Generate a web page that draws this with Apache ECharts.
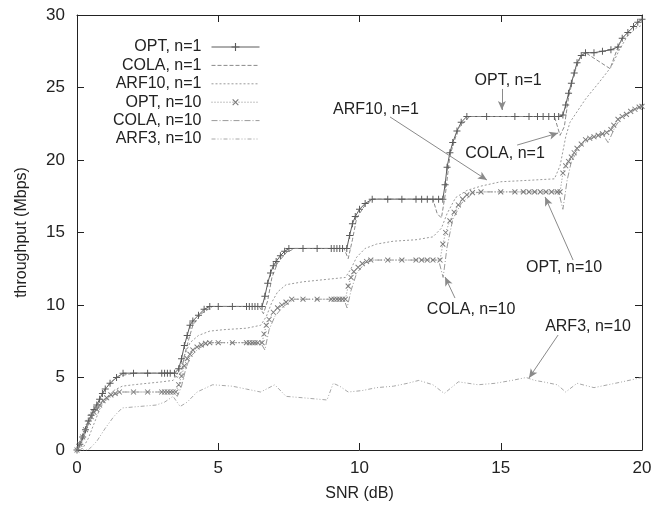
<!DOCTYPE html>
<html>
<head>
<meta charset="utf-8">
<script src="https://cdn.jsdelivr.net/npm/echarts@6/dist/echarts.min.js"></script>
<style>
html,body{margin:0;padding:0;background:#fff;}
#chart{width:668px;height:508px;}
</style>
</head>
<body>
<div id="chart"></div>
<script>
// ---- data (SNR dB, throughput Mbps) ----
const seriesNames = ['OPT, n=1', 'COLA, n=1', 'ARF10, n=1', 'OPT, n=10', 'COLA, n=10', 'ARF3, n=10'];

const optN1 = [[0,0],[0.1,0.4],[0.2,0.9],[0.3,1.4],[0.4,2.0],[0.5,2.4],[0.6,2.8],[0.7,3.1],[0.8,3.5],[0.9,3.9],[1.0,4.2],[1.17,4.6],[1.4,5.0],[1.63,5.3],[2.0,5.3],[2.5,5.3],[3.0,5.3],[3.1,5.3],[3.2,5.3],[3.3,5.3],[3.45,5.3],[3.6,5.6],[3.7,6.3],[3.8,7.2],[3.9,7.9],[4.0,8.6],[4.1,8.9],[4.3,9.3],[4.5,9.7],[4.7,9.9],[5.0,9.9],[5.5,9.9],[6.0,9.9],[6.1,9.9],[6.2,9.9],[6.3,9.9],[6.4,9.9],[6.55,9.9],[6.65,10.6],[6.75,11.5],[6.85,12.2],[6.95,12.7],[7.05,13.0],[7.2,13.4],[7.35,13.7],[7.5,13.9],[8.0,13.9],[8.5,13.9],[9.0,13.9],[9.1,13.9],[9.2,13.9],[9.3,13.9],[9.4,13.9],[9.55,13.9],[9.65,14.8],[9.75,15.6],[9.85,16.1],[10.0,16.6],[10.2,17.0],[10.45,17.3],[11.0,17.3],[11.5,17.3],[12.0,17.3],[12.2,17.3],[12.4,17.3],[12.6,17.3],[12.8,17.3],[12.95,17.3],[13.03,18.3],[13.1,19.5],[13.2,20.5],[13.3,21.2],[13.45,22.0],[13.6,22.6],[13.8,23.0],[14.5,23.0],[15.5,23.0],[16.0,23.0],[16.3,23.0],[16.5,23.0],[16.7,23.0],[16.9,23.0],[17.05,23.0],[17.2,23.1],[17.3,23.8],[17.4,24.6],[17.5,25.3],[17.6,26.0],[17.7,26.7],[17.85,27.2],[18.0,27.4],[18.3,27.4],[18.6,27.5],[18.9,27.6],[19.15,27.8],[19.3,28.4],[19.5,28.8],[19.7,29.2],[19.85,29.5],[20.0,29.7]];

const colaN1 = [[0,0],[0.2,0.7],[0.4,1.8],[0.6,2.8],[0.8,3.5],[1.0,4.2],[1.2,4.7],[1.5,5.1],[2.0,5.3],[3.0,5.3],[3.4,5.3],[3.55,5.0],[3.7,5.4],[3.8,6.5],[3.95,7.6],[4.1,8.6],[4.4,9.4],[4.8,9.9],[6.0,9.9],[6.45,9.9],[6.6,9.4],[6.75,10.3],[6.9,11.9],[7.1,12.9],[7.4,13.6],[7.7,13.9],[9.0,13.9],[9.45,13.9],[9.6,13.2],[9.75,14.5],[9.9,16.0],[10.2,16.9],[10.5,17.3],[12.6,17.3],[12.75,16.3],[12.9,16.0],[13.05,17.8],[13.2,20.3],[13.5,22.2],[13.9,23.0],[16.9,23.0],[17.1,21.7],[17.25,22.3],[17.4,24.3],[17.6,26.0],[17.8,27.0],[18.0,27.4],[18.87,26.3],[19.15,27.8],[19.3,28.4],[19.5,28.8],[19.7,29.2],[19.85,29.5],[20,29.7]];

const arf10N1 = [[0,0],[0.2,0.1],[0.4,0.8],[0.6,1.8],[0.8,2.8],[1.0,3.5],[1.3,4.1],[1.6,4.4],[2.0,4.5],[2.5,4.6],[3.0,4.7],[3.4,4.8],[3.6,5.4],[3.8,6.5],[4.0,7.4],[4.3,7.9],[4.7,8.2],[5.2,8.3],[6.0,8.4],[6.5,8.6],[6.7,9.2],[6.9,10.2],[7.1,10.9],[7.4,11.4],[8.0,11.6],[9.0,11.8],[9.5,11.9],[9.7,12.5],[9.9,13.3],[10.2,13.9],[10.6,14.2],[11.2,14.4],[12.0,14.5],[12.6,14.7],[12.9,15.3],[13.1,16.3],[13.4,17.4],[13.8,17.9],[14.3,18.2],[15.0,18.5],[16.0,18.6],[16.9,18.7],[17.1,19.6],[17.3,21.6],[17.45,22.6],[18.0,24.2],[18.5,25.4],[18.9,26.4],[19.2,27.6],[19.5,28.6],[19.8,29.1],[20,29.3]];

const optN10 = [[0,0],[0.1,0.4],[0.2,0.9],[0.3,1.4],[0.4,1.9],[0.5,2.3],[0.6,2.6],[0.7,2.8],[0.8,3.1],[0.92,3.4],[1.05,3.6],[1.2,3.8],[1.35,3.9],[1.5,4.0],[2.0,4.0],[2.5,4.0],[3.0,4.0],[3.1,4.0],[3.2,4.0],[3.3,4.0],[3.4,4.0],[3.5,4.0],[3.6,4.5],[3.7,5.1],[3.8,5.8],[3.9,6.3],[4.0,6.6],[4.1,6.9],[4.25,7.1],[4.4,7.25],[4.55,7.35],[4.7,7.4],[5.0,7.4],[5.5,7.4],[6.0,7.4],[6.1,7.4],[6.2,7.4],[6.3,7.4],[6.4,7.4],[6.55,7.4],[6.62,8.0],[6.7,8.6],[6.8,9.0],[6.95,9.5],[7.1,9.8],[7.25,10.0],[7.4,10.2],[7.6,10.4],[8.0,10.4],[8.5,10.4],[9.0,10.4],[9.1,10.4],[9.2,10.4],[9.3,10.4],[9.4,10.4],[9.5,10.4],[9.6,11.3],[9.7,11.9],[9.8,12.3],[9.95,12.6],[10.1,12.85],[10.25,13.0],[10.4,13.1],[11.0,13.1],[11.5,13.1],[12.0,13.1],[12.2,13.1],[12.4,13.1],[12.6,13.1],[12.85,13.1],[12.95,14.2],[13.05,15.0],[13.2,15.8],[13.35,16.4],[13.5,16.9],[13.65,17.3],[13.8,17.6],[14.0,17.75],[14.3,17.8],[15.0,17.8],[15.5,17.8],[15.8,17.8],[16.0,17.8],[16.2,17.8],[16.4,17.8],[16.6,17.8],[16.8,17.8],[17.0,17.8],[17.1,17.8],[17.2,19.1],[17.3,19.6],[17.4,19.9],[17.5,20.2],[17.6,20.5],[17.7,20.8],[17.85,21.1],[18.0,21.4],[18.15,21.5],[18.3,21.6],[18.45,21.7],[18.6,21.8],[18.75,21.9],[18.9,22.1],[19.0,22.4],[19.15,22.8],[19.3,23.0],[19.45,23.15],[19.6,23.35],[19.75,23.5],[19.9,23.65],[20.0,23.7]];

const colaN10 = [[0,0],[0.2,0.8],[0.4,1.8],[0.6,2.5],[0.8,3.0],[1.0,3.4],[1.3,3.8],[1.6,4.0],[3.4,4.0],[3.55,3.7],[3.7,4.4],[3.85,5.6],[4.0,6.4],[4.3,7.0],[4.7,7.4],[6.5,7.4],[6.65,6.9],[6.8,8.3],[7.0,9.2],[7.3,9.9],[7.7,10.4],[9.45,10.4],[9.56,9.8],[9.7,11.0],[9.9,12.2],[10.2,12.9],[10.5,13.1],[12.8,13.1],[12.96,11.9],[13.1,14.0],[13.3,15.9],[13.6,17.0],[14.0,17.7],[14.3,17.8],[17.05,17.8],[17.2,16.6],[17.35,18.6],[17.5,19.9],[17.8,20.9],[18.1,21.4],[18.6,21.8],[18.8,21.2],[19.05,22.3],[19.3,23.0],[19.65,23.4],[20,23.7]];

const arf3N10 = [[0,0],[0.4,0],[0.7,0.6],[1.0,1.5],[1.3,2.3],[1.6,2.9],[2.2,3.0],[2.8,3.1],[3.1,3.3],[3.4,3.7],[3.65,3.0],[3.9,3.3],[4.25,4.0],[4.8,4.5],[5.5,4.4],[6.0,4.2],[6.5,4.0],[7.0,4.5],[7.4,3.7],[8.0,3.6],[8.85,3.45],[9.07,4.6],[9.3,4.4],[9.6,4.0],[10.1,4.1],[10.6,4.3],[11.2,4.4],[11.7,4.6],[12.1,4.8],[12.6,4.5],[13.0,3.9],[13.5,4.7],[14.2,4.5],[14.8,4.6],[15.4,4.8],[15.9,5.0],[16.2,4.8],[16.5,4.7],[17.0,4.5],[17.3,4.0],[17.7,4.6],[18.3,4.3],[18.8,4.5],[19.3,4.7],[20,5.0]];

// axis ranges / tick step
const xRange = [0, 20];
const yRange = [0, 30];
const tickStep = 5;

// annotations (data units): label text, label centre, arrow start, arrow end
const annoTexts  = ['OPT, n=1', 'ARF10, n=1', 'COLA, n=1', 'OPT, n=10', 'COLA, n=10', 'ARF3, n=10'];
const annoLabelAt = [[15.26,25.5],[10.58,23.45],[15.15,20.45],[17.24,12.55],[13.95,9.66],[18.09,8.48]];
const annoFrom    = [[15.04,24.9],[11.08,22.97],[15.58,21.03],[17.56,13.1],[13.38,10.48],[17.03,7.93]];
const annoTo      = [[15.04,23.45],[14.51,18.62],[17.03,21.86],[16.57,17.45],[13.03,11.93],[16.0,4.97]];

// ---- chart ----
const FONT = 'Liberation Sans, Arial, sans-serif';
const plusPath = 'path://M4.3,0H5.7V10H4.3ZM0,4.3H10V5.7H0Z';
const withMarkers = [true, false, false, true, false, false];

const chart = echarts.init(document.getElementById('chart'), null, {renderer: 'canvas'});

function lineSeries(name, data, color, type, extra) {
  return Object.assign({
    name: name,
    type: 'line',
    data: data,
    xAxisIndex: 0,
    yAxisIndex: 0,
    symbol: 'none',
    showSymbol: false,
    smooth: false,
    lineStyle: {color: color, width: 1, type: type},
    itemStyle: {color: color},
    emphasis: {disabled: true},
    silent: true,
    animation: false
  }, extra || {});
}

const markerSeriesExtra = function (color, rot) {
  return {
    symbol: plusPath,
    symbolSize: 7,
    symbolRotate: rot,
    showSymbol: true,
    itemStyle: {color: color}
  };
};

const annoSeries = {
  name: '__anno',
  type: 'line',
  data: arf3N10.slice(0, 1),
  symbol: 'none',
  showSymbol: false,
  lineStyle: {opacity: 0},
  silent: true,
  animation: false,
  markLine: {
    silent: true,
    animation: false,
    symbol: ['none', 'arrow'],
    symbolSize: [6, 9],
    label: {show: false},
    lineStyle: {color: '#8a8a8a', width: 1, type: 'solid'},
    emphasis: {disabled: true},
    data: annoFrom.map((p, i) => [{coord: p}, {coord: annoTo[i]}])
  },
  markPoint: {
    silent: true,
    animation: false,
    symbol: 'rect',
    symbolSize: 1,
    itemStyle: {color: 'rgba(0,0,0,0)'},
    label: {
      show: true,
      position: 'inside',
      formatter: '{b}',
      color: '#222',
      fontFamily: FONT,
      fontSize: 16
    },
    data: annoTexts.map((t, i) => ({name: t, coord: annoLabelAt[i]}))
  }
};

const axisCommonX = {
  type: 'value',
  min: xRange[0], max: xRange[1], interval: tickStep,
  axisLine: {show: true, onZero: false, lineStyle: {color: '#222', width: 1}},
  axisTick: {show: true, inside: true, length: 7, lineStyle: {color: '#222'}},
  splitLine: {show: false}
};
const axisCommonY = {
  type: 'value',
  min: yRange[0], max: yRange[1], interval: tickStep,
  axisLine: {show: true, onZero: false, lineStyle: {color: '#222', width: 1}},
  axisTick: {show: true, inside: true, length: 7, lineStyle: {color: '#222'}},
  splitLine: {show: false}
};

const option = {
  backgroundColor: '#fff',
  animation: false,
  grid: {left: 77, right: 26, top: 15, bottom: 58, containLabel: false},
  legend: {
    data: seriesNames.map((n, i) => withMarkers[i] ? {name: n} : {name: n, itemStyle: {opacity: 0}}),
    orient: 'vertical',
    align: 'right',
    right: 403,
    top: 34,
    itemWidth: 48,
    itemHeight: 10,
    itemGap: 2.4,
    selectedMode: false,
    lineStyle: {width: 1},
    textStyle: {fontFamily: FONT, fontSize: 16, color: '#222', lineHeight: 16, padding: [0, 5, 0, 0]}
  },
  xAxis: [
    Object.assign({}, axisCommonX, {
      position: 'bottom',
      name: 'SNR (dB)',
      nameLocation: 'middle',
      nameGap: 36,
      nameTextStyle: {fontFamily: FONT, fontSize: 16, color: '#222'},
      axisLabel: {fontFamily: FONT, fontSize: 17, color: '#222', margin: 10}
    }),
    Object.assign({}, axisCommonX, {position: 'top', axisLabel: {show: false}})
  ],
  yAxis: [
    Object.assign({}, axisCommonY, {
      position: 'left',
      name: 'throughput (Mbps)',
      nameLocation: 'middle',
      nameGap: 47,
      nameRotate: 90,
      nameTextStyle: {fontFamily: FONT, fontSize: 16, color: '#222'},
      axisLabel: {fontFamily: FONT, fontSize: 17, color: '#222', margin: 12}
    }),
    Object.assign({}, axisCommonY, {position: 'right', axisLabel: {show: false}})
  ],
  series: [
    lineSeries(seriesNames[0], optN1, '#5a5a5a', 'solid', markerSeriesExtra('#5a5a5a', 0)),
    lineSeries(seriesNames[1], colaN1, '#8a8a8a', [4, 2]),
    lineSeries(seriesNames[2], arf10N1, '#9a9a9a', [2, 2]),
    lineSeries(seriesNames[3], optN10, '#8a8a8a', [1, 2], markerSeriesExtra('#7a7a7a', 45)),
    lineSeries(seriesNames[4], colaN10, '#9a9a9a', [6, 2, 1, 2]),
    lineSeries(seriesNames[5], arf3N10, '#a8a8a8', [4, 2, 1, 2, 1, 2]),
    annoSeries
  ]
};
chart.setOption(option);
</script>
</body>
</html>
